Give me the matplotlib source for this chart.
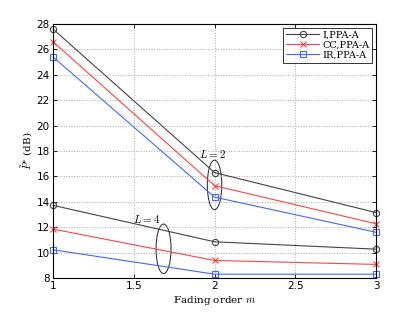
import matplotlib
matplotlib.use("Agg")
import matplotlib.pyplot as plt
from matplotlib.patches import Ellipse

plt.rcParams['mathtext.fontset'] = 'cm'

m = [1, 2, 3]
i_L2 = [27.6, 16.3, 13.15]
cc_L2 = [26.6, 15.27, 12.27]
ir_L2 = [25.4, 14.37, 11.6]
i_L4 = [13.72, 10.85, 10.27]
cc_L4 = [11.85, 9.38, 9.07]
ir_L4 = [10.22, 8.3, 8.3]
labels = ['I,PPA-A', 'CC,PPA-A', 'IR,PPA-A']
xticks = [1, 1.5, 2, 2.5, 3]
yticks = [8, 10, 12, 14, 16, 18, 20, 22, 24, 26, 28]

fig = plt.figure(figsize=(4.15, 3.12), dpi=100)
ax = fig.add_axes([0.128, 0.109, 0.778, 0.814])

styles = [dict(color='#444444', marker='o', mfc='none'),
          dict(color='#ff4444', marker='x'),
          dict(color='#4466ff', marker='s', mfc='none')]

for data, lab, st in zip([i_L2, cc_L2, ir_L2], labels, styles):
    ax.plot(m, data, label=lab, lw=0.8, ms=4.5, mew=0.8, clip_on=False, **st)
for data, st in zip([i_L4, cc_L4, ir_L4], styles):
    ax.plot(m, data, lw=0.8, ms=4.5, mew=0.8, clip_on=False, **st)

ax.add_patch(Ellipse((2.0, 15.33), 0.09, 3.9, fill=False, lw=0.7, color='#222222'))
ax.add_patch(Ellipse((1.684, 10.3), 0.093, 3.9, fill=False, lw=0.7, color='#222222'))
ax.text(1.99, 17.3, '$L = 2$', fontsize=8, ha='center', va='bottom')
ax.text(1.58, 12.2, '$L = 4$', fontsize=8, ha='center', va='bottom')

ax.set_xlim(1, 3)
ax.set_ylim(8, 28)
ax.set_xticks(xticks)
ax.set_xticklabels(['1', '1.5', '2', '2.5', '3'])
ax.set_yticks(yticks)
ax.tick_params(labelsize=7.5, direction='in', length=3, width=0.6, top=True, right=True, pad=2.5)
ax.grid(True, linestyle=':', color='#aaaaaa', lw=0.7)
for s in ax.spines.values():
    s.set_linewidth(0.8)

ax.set_xlabel('Fading order $m$', fontsize=7.5, family='serif', labelpad=2)
ax.set_ylabel(r'$\tilde{P}^{*}$ (dB)', fontsize=7.5, family='serif', labelpad=1)

leg = ax.legend(loc='upper right', prop={'family': 'serif', 'size': 7},
                frameon=True, fancybox=False, edgecolor='black', borderpad=0.3,
                labelspacing=0.1, handlelength=3.4, handletextpad=0.3,
                borderaxespad=0.4)
leg.get_frame().set_linewidth(0.7)

fig.savefig('out.png', dpi=100)
